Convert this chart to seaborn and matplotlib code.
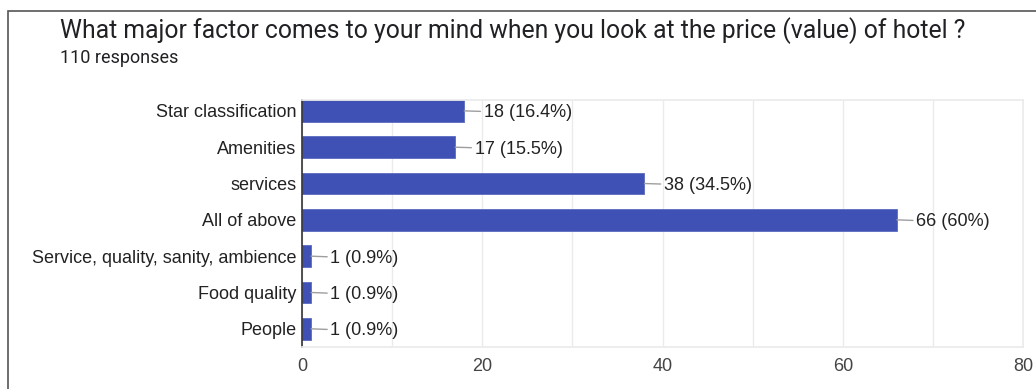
"""
Google Forms style bar chart: major factor when looking at hotel price
"""

import matplotlib
matplotlib.use('Agg')
import matplotlib.pyplot as plt
import seaborn as sns
import pandas as pd
from matplotlib.patches import Rectangle

# Data
categories = ['Star classification', 'Amenities', 'services', 'All of above',
              'Service, quality, sanity, ambience', 'Food quality', 'People']
counts = [18, 17, 38, 66, 1, 1, 1]
percent_labels = ['16.4%', '15.5%', '34.5%', '60%', '0.9%', '0.9%', '0.9%']
total_responses = 110

df = pd.DataFrame({'category': categories, 'count': counts})

sns.set_theme(style="white")
plt.rcParams['font.family'] = ['Liberation Sans', 'DejaVu Sans']

fig = plt.figure(figsize=(10.36, 3.89), dpi=100)
ax = fig.add_axes([0.2915, 0.108, 0.696, 0.635])

sns.barplot(data=df, y='category', x='count', orient='h', color='#3F51B5',
            saturation=1, width=0.6, edgecolor='#5C6BC0', linewidth=0.6, ax=ax)

ax.set_xlim(0, 80)
ax.set_ylim(6.5, -0.3)
ax.set_xticks([0, 20, 40, 60, 80])
ax.set_xticks([10, 30, 50, 70], minor=True)
ax.grid(axis='x', which='both', color='#ebebeb', linewidth=1)
ax.set_axisbelow(True)
ax.set_xlabel('')
ax.set_ylabel('')

for side in ['top', 'right']:
    ax.spines[side].set_color('#ebebeb')
ax.spines['bottom'].set_color('#ebebeb')
ax.spines['left'].set_color('#333333')
ax.spines['left'].set_linewidth(1.2)

ax.tick_params(axis='y', length=0, pad=4, labelsize=13, labelcolor='#222222')
ax.tick_params(axis='x', which='both', length=0, pad=8, labelsize=13,
               labelcolor='#444444')

# Value labels with leader lines
for i, (c, p) in enumerate(zip(counts, percent_labels)):
    ax.annotate(f'{c} ({p})', xy=(c, i), xytext=(14, 0),
                textcoords='offset points', ha='left', va='center_baseline',
                fontsize=13, color='#222222',
                arrowprops=dict(arrowstyle='-', color='#9e9e9e', lw=1,
                                shrinkA=0, shrinkB=0))

# Titles
fig.text(60 / 1036, 1 - 31 / 389, 'What major factor comes to your mind when you look at the price (value) of hotel ?',
         fontsize=17.8, family=['Roboto', 'DejaVu Sans'], color='#202124',
         ha='left', va='center')
fig.text(60 / 1036, 1 - 58 / 389, f'{total_responses} responses',
         fontsize=13, family=['Roboto', 'DejaVu Sans'], color='#202124',
         ha='left', va='center')

# Card border
fig.patches.append(Rectangle((8 / 1036, -0.1), 1.2, 1 - 11 / 389 + 0.1,
                             transform=fig.transFigure, fill=False,
                             edgecolor='#555555', linewidth=1.2))

plt.savefig('out.png', dpi=100)
plt.close()
